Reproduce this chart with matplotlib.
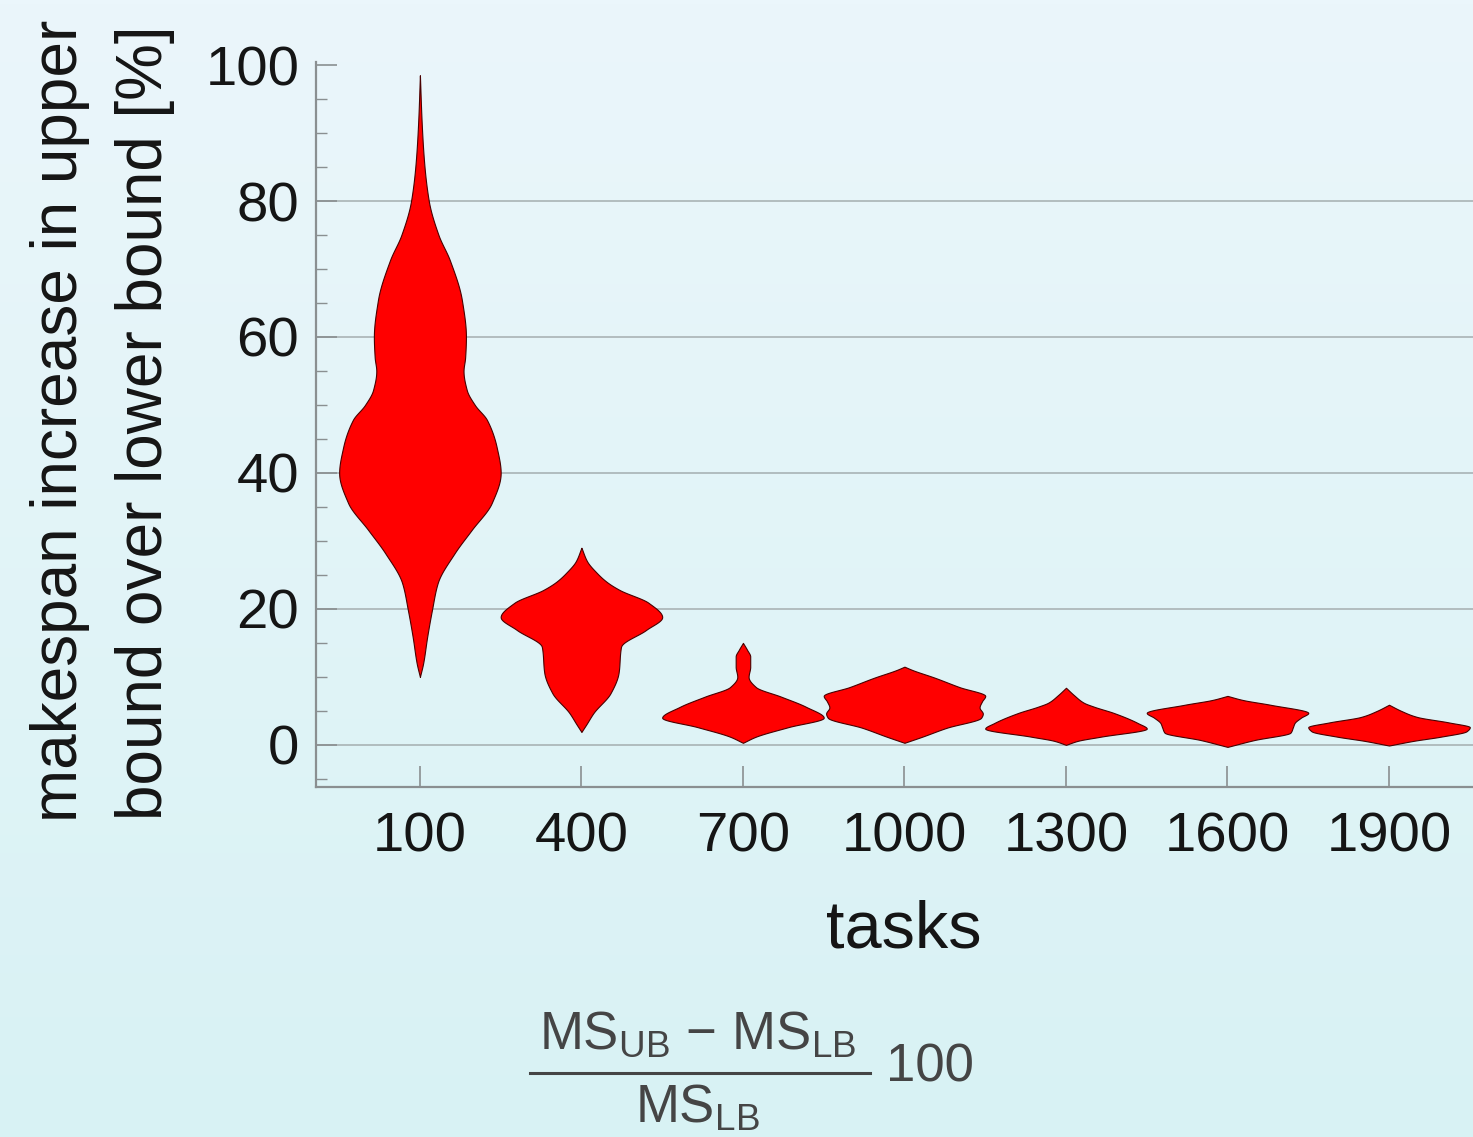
import numpy as np
import matplotlib
matplotlib.use("Agg")
import matplotlib.pyplot as plt
from matplotlib.ticker import MultipleLocator
from matplotlib.lines import Line2D

plt.rcParams['font.family'] = ['Liberation Sans', 'DejaVu Sans']
plt.rcParams['mathtext.fontset'] = 'custom'
plt.rcParams['mathtext.rm'] = 'Liberation Sans'
plt.rcParams['mathtext.it'] = 'Liberation Sans:italic'

tasks = [100, 400, 700, 1000, 1300, 1600, 1900]

# violin outlines: increase levels [%] and relative density (1 = widest)
levels = [
    [10, 12, 15.9, 19.9, 23.8, 28.2, 31.6, 35.6, 40, 43.8, 47.8, 50, 52.2, 55, 57, 60, 65.4, 71.3, 75, 80, 86, 92, 98.5],
    [1.9, 3.0, 4.7, 7.6, 10.6, 14.4, 16.9, 18.8, 20.9, 22.8, 24.0, 25.3, 27.0, 29.0],
    [0.3, 1.2, 2.6, 4.0, 5.6, 7.1, 8.5, 10.0, 11.5, 13.0, 14.0, 15.0],
    [0.3, 1.2, 2.5, 4.0, 4.6, 5.5, 6.4, 7.2, 8.5, 9.9, 11.0, 11.5],
    [0.0, 0.6, 1.2, 2.4, 3.2, 4.7, 5.6, 6.2, 7.3, 8.4],
    [-0.3, 0.7, 1.8, 2.6, 3.2, 4.0, 4.7, 5.9, 6.6, 7.2],
    [-0.1, 0.6, 1.2, 2.0, 2.6, 3.3, 4.1, 5.0, 5.9],
]
density = [
    [0, .04, .09, .15, .22, .43, .64, .89, 1.0, .95, .83, .68, .58, .54, .56, .57, .52, .37, .23, .11, .05, .02, 0],
    [0, .06, .15, .36, .46, .49, .80, 1.0, .83, .47, .31, .19, .07, 0],
    [0, .16, .56, 1.0, .78, .47, .16, .07, .09, .09, .05, 0],
    [0, .22, .52, .95, .97, .93, .96, 1.0, .68, .37, .10, 0],
    [0, .15, .43, 1.0, .89, .59, .35, .22, .10, 0],
    [0, .33, .78, .81, .83, .91, 1.0, .53, .19, 0],
    [0, .31, .64, .96, 1.0, .74, .35, .15, 0],
]


def smooth_outline(y, d, n=400):
    # monotone cubic (Fritsch-Carlson) so the outline is round, not jagged
    y = np.asarray(y, float)
    d = np.asarray(d, float)
    h = np.diff(y)
    s = np.diff(d) / h
    m = np.zeros_like(d)
    for i in range(1, len(d) - 1):
        if s[i - 1] * s[i] > 0:
            w1 = 2 * h[i] + h[i - 1]
            w2 = h[i] + 2 * h[i - 1]
            m[i] = (w1 + w2) / (w1 / s[i - 1] + w2 / s[i])
    m[0], m[-1] = s[0], s[-1]
    yy = np.linspace(y[0], y[-1], n)
    k = np.clip(np.searchsorted(y, yy) - 1, 0, len(h) - 1)
    t = (yy - y[k]) / h[k]
    h00 = 2 * t**3 - 3 * t**2 + 1
    h10 = t**3 - 2 * t**2 + t
    h01 = -2 * t**3 + 3 * t**2
    h11 = t**3 - t**2
    dd = h00 * d[k] + h10 * h[k] * m[k] + h01 * d[k + 1] + h11 * h[k] * m[k + 1]
    return yy, np.clip(dd, 0, None)


W, H = 1473, 1137
fig = plt.figure(figsize=(W / 100, H / 100), dpi=100)

# soft vertical gradient behind everything
bg = fig.add_axes([0, 0, 1, 1], zorder=-10)
top = np.array([235, 246, 251]) / 255
bot = np.array([216, 242, 244]) / 255
t = np.linspace(0, 1, 256)[:, None]
grad = (top * (1 - t) + bot * t)[:, None, :]
bg.imshow(grad, aspect='auto', extent=[0, 1, 0, 1])
bg.axis('off')

ax = fig.add_axes([316 / W, 350 / H, 1 - 316 / W, (787 - 62) / H])
ax.set_facecolor('none')

half = 150
for x, lv, d in zip(tasks, levels, density):
    yy, dd = smooth_outline(lv, d)
    ax.fill_betweenx(yy, x - dd * half, x + dd * half, facecolor='#ff0000',
                     edgecolor='#4a0000', linewidth=0.8, zorder=3)

ax.set_xlim(-93, 2056)
ax.set_ylim(-6.2, 100.45)

for gy in [0, 20, 40, 60, 80]:
    ax.axhline(gy, color='#a9b3b5', linewidth=1.2, zorder=1)

ax.set_xticks(tasks)
ax.set_yticks([0, 20, 40, 60, 80, 100])
ax.yaxis.set_minor_locator(MultipleLocator(5))
ax.tick_params(axis='both', which='major', direction='in', length=15, width=1.2,
               color='#8a8f91', labelsize=40.5, labelcolor='#151515')
ax.tick_params(axis='y', which='minor', direction='in', length=8, width=1.0, color='#8a8f91')
ax.tick_params(axis='x', pad=18)
ax.tick_params(axis='y', pad=12)

for s in ['top', 'right']:
    ax.spines[s].set_visible(False)
for s in ['left', 'bottom']:
    ax.spines[s].set_color('#8a8f91')
    ax.spines[s].set_linewidth(1.6)

fig.text(904 / W, 1 - 930 / H, 'tasks', ha='center', va='center',
         fontsize=48, color='#151515')
fig.text(60 / W, 1 - 421 / H, 'makespan increase in upper', rotation=90,
         ha='center', va='center', fontsize=46, color='#151515')
fig.text(145 / W, 1 - 423 / H, 'bound over lower bound [%]', rotation=90,
         ha='center', va='center', fontsize=46, color='#151515')

# (MS_UB - MS_LB) / MS_LB * 100 under the plot
fcol = '#454545'
fig.text(698 / W, 1 - 1049 / H, r'MS$_{\mathrm{UB}}$ $-$ MS$_{\mathrm{LB}}$',
         ha='center', va='baseline', fontsize=38, color=fcol)
fig.add_artist(Line2D([530 / W, 870 / W], [1 - 1073 / H, 1 - 1073 / H],
                      color=fcol, linewidth=2.2))
fig.text(697 / W, 1 - 1123 / H, r'MS$_{\mathrm{LB}}$',
         ha='center', va='baseline', fontsize=38, color=fcol)
fig.text(886 / W, 1 - 1068 / H, '100', ha='left', va='center',
         fontsize=38, color=fcol)

fig.savefig('out.png', dpi=100)
